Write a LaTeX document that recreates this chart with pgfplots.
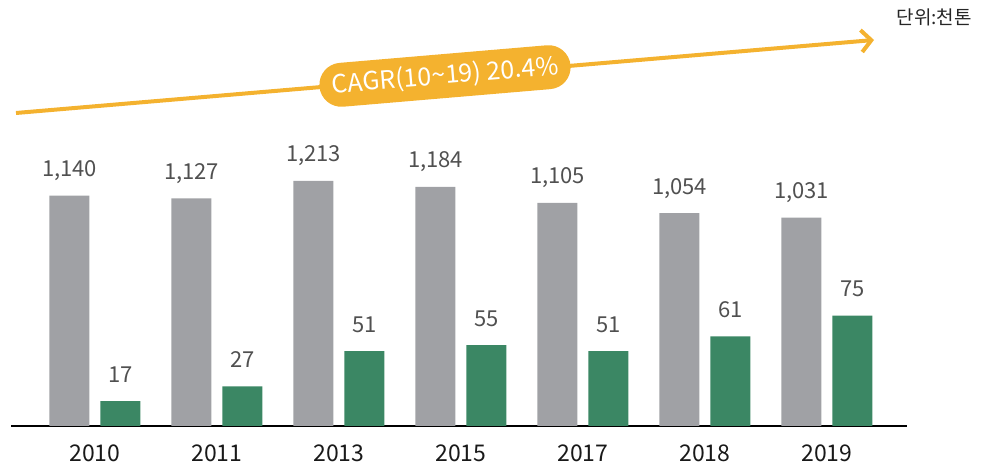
\documentclass[border=0pt]{standalone}
\usepackage{pgfplots}
\pgfplotsset{compat=1.18}
\usepackage{fontspec}
\setmainfont{Noto Sans CJK KR}
\usetikzlibrary{arrows.meta}
\definecolor{barGray}{HTML}{A0A1A5}
\definecolor{barGreen}{HTML}{3B8764}
\definecolor{cagr}{HTML}{F4B22F}
\definecolor{lbl}{HTML}{505050}
\begin{document}
\begin{tikzpicture}[x=1pt,y=1pt]
\path[use as bounding box] (0,0) rectangle (987,465);
\pgfplotsset{
  base/.style={
    at={(11pt,39pt)}, anchor=south west,
    scale only axis, width=896pt, height=426pt,
    xmin=-0.6885, xmax=6.656, ymin=0,
    clip=false,
    /pgf/number format/.cd, 1000 sep={,}, assume math mode=true,
  },
  vals/.style={
    nodes near coords,
    every node near coord/.append style={font=\fontsize{22}{22}\selectfont, text=lbl, anchor=base, inner sep=0pt, yshift=19pt, xshift=#1},
  }
}
\begin{axis}[base, ymax=2109,
  axis x line*=bottom, axis y line=none,
  x axis line style={black, line width=1.3pt},
  xtick={0,...,6}, xticklabels={2010,2011,2013,2015,2017,2018,2019},
  major tick length=0pt,
  xticklabel style={font=\fontsize{23}{23}\selectfont, text=black!90, anchor=base, inner sep=0pt, yshift=-36pt},
]
\addplot[ybar, bar width=40pt, bar shift=-25.5pt, fill=barGray, draw=none, vals=-25.5pt]
  coordinates {(0,1140) (1,1127) (2,1213) (3,1184) (4,1105) (5,1054) (6,1031)};
\end{axis}
\begin{axis}[base, ymax=289.8, hide axis]
\addplot[ybar, bar width=40pt, bar shift=25.5pt, fill=barGreen, draw=none, vals=25.5pt]
  coordinates {(0,17) (1,27) (2,51) (3,55) (4,51) (5,61) (6,75)};
\end{axis}
\draw[cagr, line width=4pt, -{Straight Barb[length=10pt, width=22pt, line width=4pt]}] (16,352) -- (874,425);
\node[fill=cagr, rounded corners=22pt, rotate=4.85, minimum width=252pt, minimum height=44pt, inner sep=0pt, text=white, font=\fontsize{25}{25}\selectfont] at (445,389) {CAGR(10\textasciitilde19) 20.4\%};
\node[anchor=base east, inner sep=0pt, text=black!85, font=\fontsize{19}{19}\selectfont] at (972,440) {단위:천톤};
\end{tikzpicture}
\end{document}
